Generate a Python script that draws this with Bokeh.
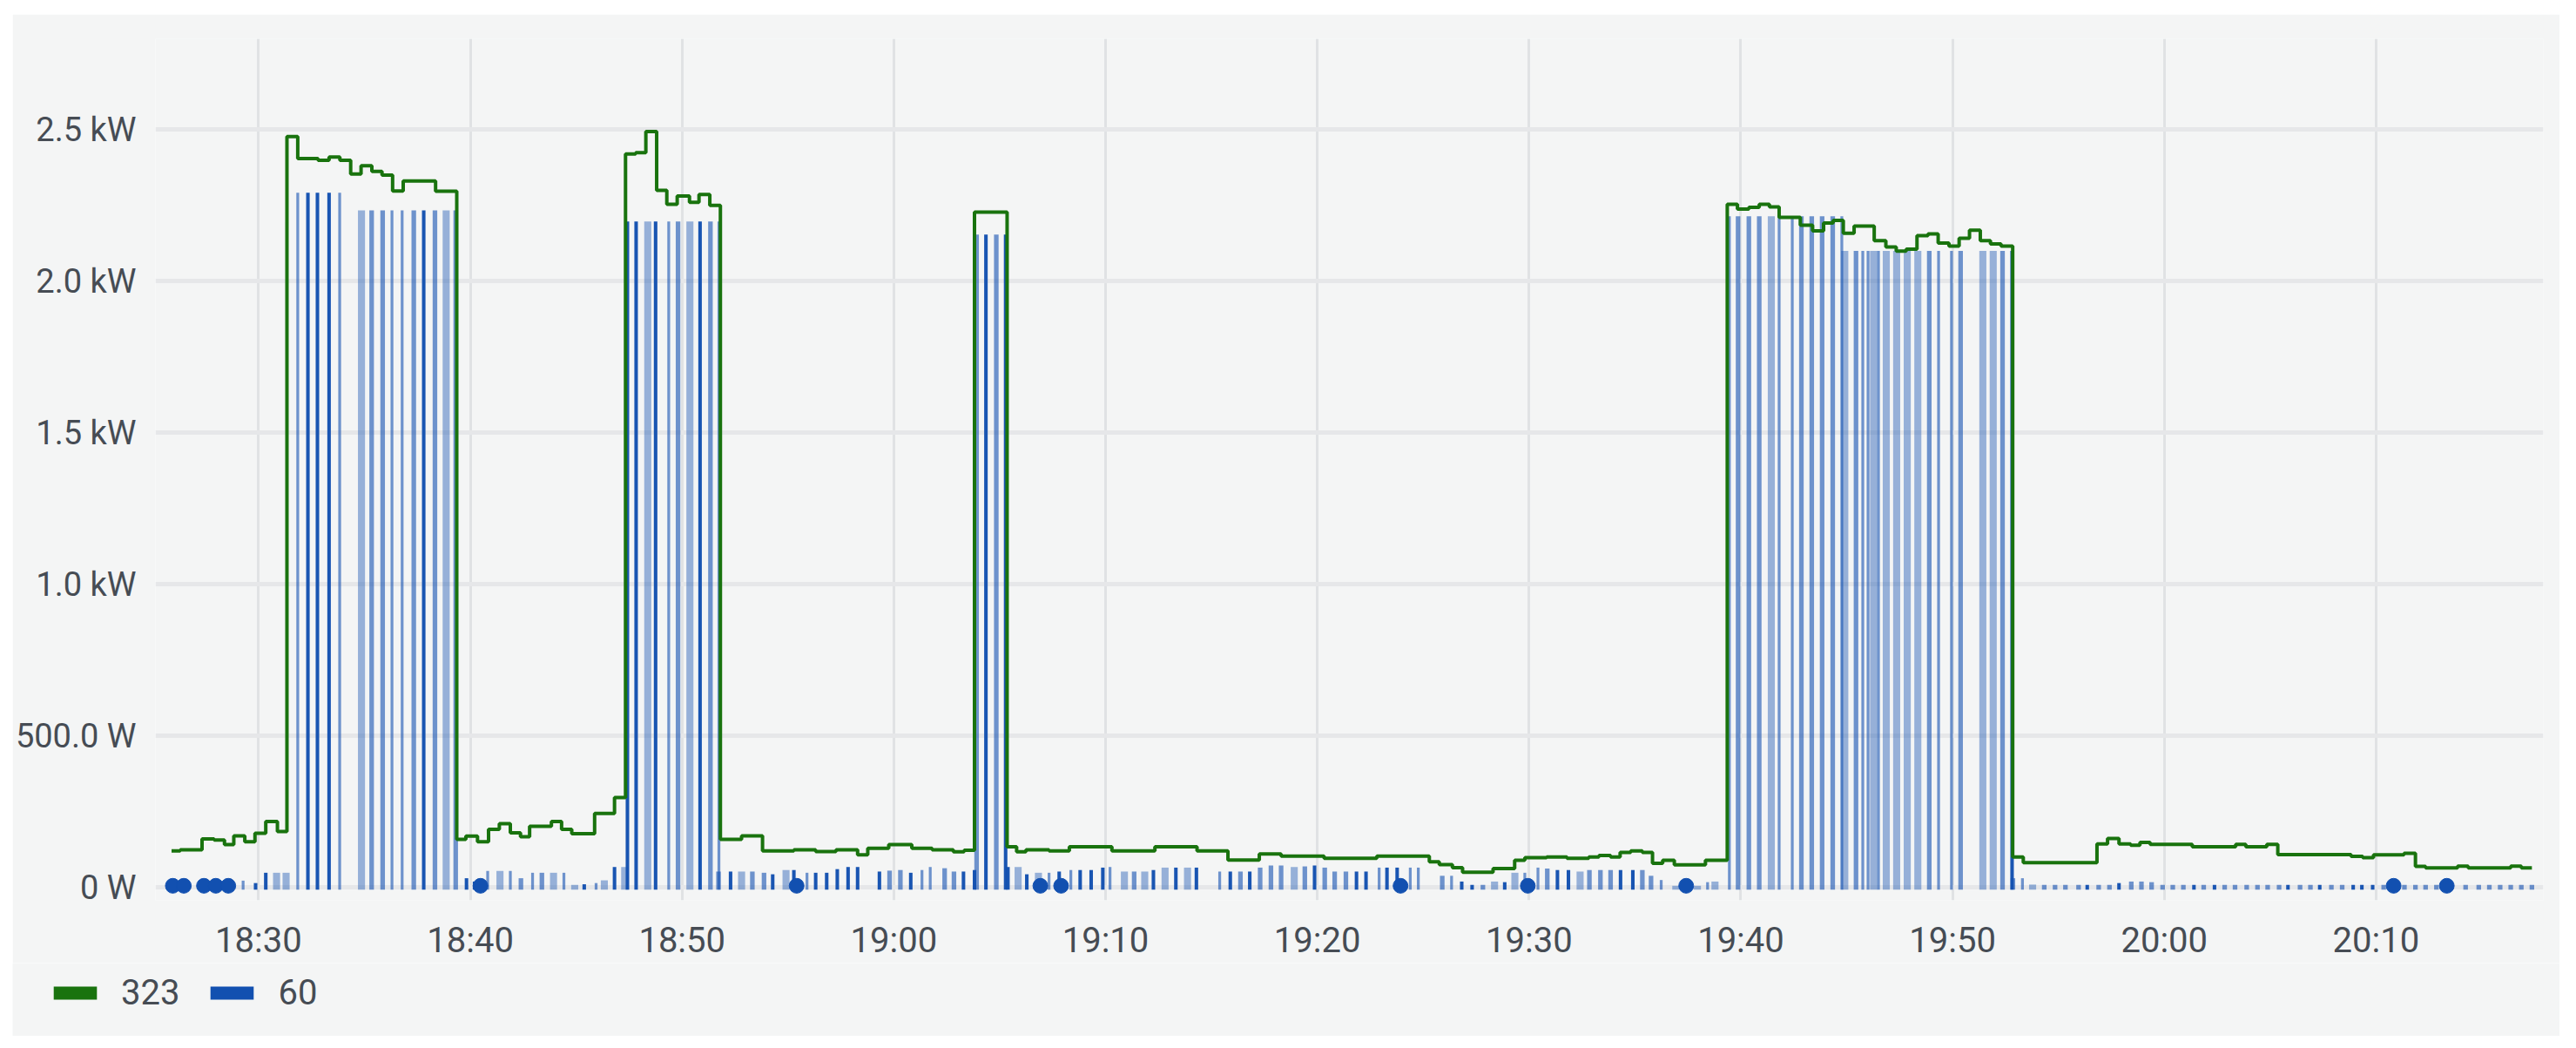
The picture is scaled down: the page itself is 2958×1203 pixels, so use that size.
import pandas as pd

from bokeh.embed import file_html
from bokeh.layouts import column
from bokeh.models import DatetimeTickFormatter, FixedTicker, Legend, LegendItem, Range1d
from bokeh.plotting import figure
from bokeh.resources import INLINE

# all times are minutes after 18:00, all values are watts

# series 323: power level from each time on
green_t = [25.89, 26.30, 27.33, 27.90, 28.39, 28.83, 29.35, 29.83, 30.34, 30.89,
           31.34, 31.85, 32.81, 33.33, 33.84, 34.35, 34.84, 35.35, 35.83, 36.33, 36.83, 38.36,
           39.36, 39.79, 40.34, 40.86, 41.37, 41.89, 42.37, 42.80, 43.83, 44.31, 44.79, 45.87, 46.81,
           47.33, 47.81, 48.29, 48.80, 49.28, 49.77, 50.35, 50.80, 51.31,
           51.81, 52.81, 53.80, 55.28, 56.31, 57.27, 58.29, 58.77, 59.76, 60.85, 61.81, 62.81, 63.32,
           63.81, 65.35, 65.80, 66.24, 67.33, 68.29, 70.30, 72.33, 74.32, 75.78, 77.26, 78.29, 80.32,
           82.81, 85.29, 85.76, 86.38, 86.86, 88.30, 89.32, 89.80, 90.83, 91.79, 92.82, 93.30, 93.85,
           94.30, 94.80, 95.35, 95.83, 96.31, 96.86, 98.33,
           99.36, 99.84, 100.38, 100.87, 101.35, 101.81, 102.81, 103.39, 103.91, 104.36, 104.84, 105.35,
           106.30, 106.85, 107.34, 107.81, 108.32, 108.84, 109.32, 109.83, 110.31, 110.80, 111.31,
           111.79, 112.29, 112.84, 113.34, 116.82, 117.32, 117.86, 118.41, 118.85, 119.33, 121.32,
           123.37, 123.85, 124.84, 125.36, 128.82, 129.37, 129.88, 131.32, 131.86, 132.34, 133.85,
           134.35, 136.36, 136.86, 137.36]
green_w = [120, 124, 160, 156, 141, 170, 150, 178, 217, 184,
           2477, 2405, 2399, 2410, 2399, 2354, 2381, 2362, 2350, 2298, 2331, 2297,
           158, 169, 150, 191, 210, 180, 167, 201, 217, 191, 177, 244, 296,
           2420, 2424, 2494, 2300, 2254, 2281, 2260, 2286, 2250,
           158, 170, 120, 124, 118, 124, 107, 129, 141, 129, 124, 117, 122,
           2228, 134, 117, 124, 120, 134, 120, 134, 120, 90, 110, 103, 96,
           103, 84, 75, 65, 50, 62, 89, 98, 100, 96, 100, 105, 100,
           115, 120, 115, 79, 89, 74, 89,
           2254, 2238, 2244, 2254, 2245, 2211, 2185, 2166, 2192, 2201, 2158, 2182,
           2134, 2113, 2099, 2106, 2150, 2156, 2126, 2116, 2142, 2168, 2134,
           2123, 2116, 100, 81, 143, 161, 143, 139, 148, 142, 134,
           142, 134, 142, 108, 102, 98, 107, 112, 69, 64, 70,
           64, 70, 64, 64]

# series 60: samples come in four looks, depending on how they blended in the panel
strong_t = [29.86, 30.34, 32.33, 32.78, 33.33, 37.80, 39.82, 40.20, 45.38, 46.81,
            47.42, 47.83, 48.75, 50.85, 52.29, 54.28, 55.28, 56.31, 56.83, 57.33, 57.84, 58.29,
            59.32, 60.80, 63.29, 63.81, 64.35, 65.28, 65.39, 66.28, 67.81, 68.80, 69.32, 69.87,
            72.26, 73.32, 74.29, 75.89, 76.81, 79.87, 81.85, 82.30, 83.29, 83.77,
            86.82, 87.31, 88.85, 91.34, 91.86, 94.32, 94.90, 112.81,
            116.36, 117.86, 121.40, 122.37, 125.84, 127.34, 128.92, 129.33, 129.84]
strong_w = [14, 48, 2292, 2292, 2292, 2234, 30, 19, 10, 67,
            2197, 2197, 2197, 2197, 52, 43, 57, 48, 48, 60, 67, 67,
            52, 48, 52, 57, 2154, 2154, 67, 43, 52, 57, 57, 65,
            57, 65, 65, 52, 52, 72, 52, 52, 65, 65,
            19, 8, 17, 57, 57, 57, 57, 2100,
            8, 14, 8, 8, 8, 8, 8, 8, 8]

mid_t = [35.34, 35.86, 37.33, 38.33, 39.31, 42.39, 43.38, 49.81, 51.34,
         51.72, 53.32, 53.87, 59.80, 60.31, 62.40, 62.84, 63.91, 64.84, 71.35,
         76.37, 77.30, 77.81, 78.29, 79.41, 80.35, 80.82, 81.35, 85.90, 87.82, 90.86, 92.85,
         93.37, 93.85, 95.35, 95.76, 99.87, 100.38, 100.87, 102.86, 103.35, 103.84, 104.34,
         105.44, 108.90, 110.38, 112.36, 112.85,
         114.33, 114.84, 115.33, 115.95, 116.90, 117.41, 118.44, 118.92, 119.40, 119.92,
         120.40, 120.90, 121.86, 122.85, 123.34, 123.89, 124.40, 124.88, 125.42, 126.41,
         126.90, 127.89, 128.40, 130.36, 131.34, 131.86, 132.34, 132.85, 134.23, 134.85,
         135.35, 135.86, 136.36, 136.86, 137.36]
mid_w = [2234, 2234, 2234, 2234, 2234, 30, 48, 2197, 2197,
         52, 52, 48, 55, 57, 63, 52, 2154, 2154, 52,
         52, 65, 72, 72, 69, 65, 52, 52, 38, 8, 62, 57,
         57, 57, 57, 38, 2214, 2214, 2214, 2214, 2214, 2214, 2214,
         2100, 2100, 2100, 2100, 30,
         8, 8, 8, 8, 8, 8, 19, 19, 17, 8,
         8, 8, 8, 8, 8, 8, 8, 8, 8, 8,
         8, 8, 8, 8, 8, 8, 8, 8, 8, 8,
         8, 8, 8, 8, 8]

thin_t = [29.27, 31.85, 33.83, 36.30, 36.78, 40.82, 41.89, 42.94, 44.42, 45.94, 49.37,
          51.74, 55.90, 61.33, 61.72, 67.33, 68.36, 70.21, 75.39, 82.92, 84.39, 84.77,
          86.34, 89.80, 90.42, 96.24, 98.43, 99.46, 101.81, 102.43, 104.77, 105.76, 106.01,
          106.50, 109.34, 109.95, 113.30]
thin_w = [22, 2292, 2292, 2234, 2234, 54, 54, 48, 48, 14, 2197,
          2197, 48, 57, 67, 48, 57, 67, 52, 65, 65, 65,
          38, 48, 65, 24, 17, 2214, 2214, 2214, 2214, 2100, 2100,
          2100, 2100, 2100, 30]

faint_t = [30.85, 31.30, 34.86, 38.86, 41.40, 43.93, 44.93, 46.33, 47.29, 48.38, 50.37,
           52.81, 54.91, 65.87, 66.83, 70.89, 71.85, 72.81, 73.87, 78.91, 88.37, 89.33,
           92.41, 96.93, 97.95, 98.78, 101.44, 104.91, 106.27, 106.87, 107.36, 107.86, 108.36,
           111.43, 111.92, 113.78]
faint_w = [48, 48, 2234, 2234, 54, 48, 8, 23, 67, 2197, 2197,
           52, 57, 67, 48, 52, 52, 65, 65, 67, 19, 48,
           52, 5, 5, 19, 2214, 2100, 2100, 2100, 2100, 2100, 2100,
           2100, 2100, 9]

# isolated samples, drawn with a point
point_t = [25.95, 26.47, 27.42, 27.98, 28.57, 40.48, 55.41, 66.92, 67.90, 83.93, 89.94, 97.42, 130.83, 133.34]
point_w = [5, 5, 5, 5, 5, 5, 5, 5, 5, 5, 5, 5, 5, 5]

y_ticks = [0, 500, 1000, 1500, 2000, 2500]
y_tick_labels = ["0 W", "500.0 W", "1.0 kW", "1.5 kW", "2.0 kW", "2.5 kW"]
x_ticks = [30, 40, 50, 60, 70, 80, 90, 100, 110, 120, 130]


def to_time(minutes):
    return pd.Timestamp("2021-03-01 18:00") + pd.to_timedelta(minutes, unit="m")


PANEL = "#f4f5f5"
TEXT = "#464c54"
GREEN = "#19730e"
BLUE = "#1250b0"
FONT = "Roboto"

p = figure(width=2925, height=1089, x_axis_type="datetime",
           x_range=Range1d(to_time(25.13), to_time(137.9)),
           y_range=Range1d(-43, 2800),
           output_backend="svg", toolbar_location=None, frame_align=False,
           min_border_left=162, min_border_right=19, min_border_top=28, min_border_bottom=70,
           background_fill_color=PANEL, border_fill_color=PANEL, outline_line_color=None)

p.xaxis.ticker = FixedTicker(ticks=[to_time(m).value / 1e6 for m in x_ticks])
p.xaxis.formatter = DatetimeTickFormatter(hours="%H:%M", minutes="%H:%M", hourmin="%H:%M", minsec="%H:%M",
                                          seconds="%H:%M", days="%H:%M", context=None)
p.yaxis.ticker = FixedTicker(ticks=y_ticks)
p.yaxis.major_label_overrides = dict(zip(y_ticks, y_tick_labels))

for axis in [p.xaxis, p.yaxis]:
    axis.axis_line_color = None
    axis.major_tick_line_color = None
    axis.minor_tick_line_color = None
    axis.major_label_text_color = TEXT
    axis.major_label_text_font = FONT
p.xaxis.major_label_text_font_size = "40px"
p.yaxis.major_label_text_font_size = "38px"
p.xaxis.major_label_standoff = 16
p.yaxis.major_label_standoff = 16

p.xgrid.grid_line_color = "#e0e2e4"
p.xgrid.grid_line_width = 3
p.ygrid.grid_line_color = "#e6e7e9"
p.ygrid.grid_line_width = 5


def sample_bars(times, watts, seconds, alpha):
    p.vbar(x=to_time(pd.Series(times)), top=watts, bottom=-8, width=seconds * 1000,
           fill_color=BLUE, fill_alpha=alpha, line_color=None)


sample_bars(faint_t, faint_w, 20, 0.42)
sample_bars(mid_t, mid_w, 13, 0.6)
sample_bars(thin_t, thin_w, 8, 0.6)
sample_bars(strong_t, strong_w, 10, 0.97)

p.scatter(to_time(pd.Series(point_t)), point_w, size=17, color=BLUE)
p.step(to_time(pd.Series(green_t)), green_w, mode="after", line_color=GREEN, line_width=4)

# legend sits in its own strip, a legend outside the frame gets cut off
key = figure(width=2925, height=84, x_range=(0, 1), y_range=(0, 1),
             output_backend="svg", toolbar_location=None, frame_align=False,
             x_axis_location=None, y_axis_location=None,
             min_border=0, background_fill_color=PANEL, border_fill_color=PANEL, outline_line_color=None)
key.grid.visible = False
# off-range bars, the legend swatches only need their colours
key_323 = key.vbar(x=[5], top=[5], width=1, fill_color=GREEN, line_color=None)
key_60 = key.vbar(x=[5], top=[5], width=1, fill_color=BLUE, line_color=None)
# swatches come out at 80% of the glyph box
legend = Legend(items=[LegendItem(label="323", renderers=[key_323]), LegendItem(label="60", renderers=[key_60])],
                orientation="horizontal", location=(41, 26), margin=0, padding=0,
                spacing=29, label_standoff=22, glyph_width=62, glyph_height=19,
                label_text_font=FONT, label_text_font_size="40px", label_text_color=TEXT,
                border_line_color=None, background_fill_alpha=0)
key.add_layout(legend)

page = column(p, key, spacing=0, margin=(16, 0, 0, 14))
open("out.html", "w").write(file_html(page, INLINE))
